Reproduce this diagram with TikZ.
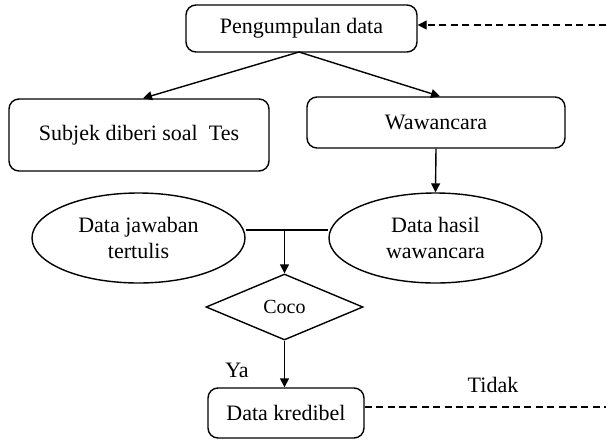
\documentclass[tikz,border=0pt]{standalone}
\usepackage{fontspec}
\setmainfont{Liberation Serif}
\usetikzlibrary{shapes.geometric,arrows.meta}

\begin{document}
\begin{tikzpicture}[x=0.5pt,y=-0.5pt,line width=0.7pt,
    font=\fontsize{11}{13}\selectfont,
    box/.style={draw,rounded corners=5pt,inner sep=0pt,align=center},
    blob/.style={draw,ellipse,inner sep=0pt,align=center,
        minimum width=106.5pt,minimum height=45pt},
    choice/.style={draw,diamond,inner sep=0pt,align=center,
        minimum width=78.5pt,minimum height=33pt,font=\fontsize{10}{12}\selectfont},
    arrow/.style={draw,-{Triangle[length=4.5pt,width=4.5pt]}},
    putus/.style={dash pattern=on 3.5pt off 2.2pt}]
\useasboundingbox (0,0) rectangle (606,440);
\node [box,minimum width=115.5pt,minimum height=23.5pt] (pengumpulan) at (301.5,28.5) {Pengumpulan data};
\node [box,minimum width=130pt,minimum height=36pt] (subjek) at (139,135) {Subjek diberi soal \ Tes};
\node [box,minimum width=129pt,minimum height=25.5pt] (wawancara) at (436,122.5) {Wawancara};
\node [blob] (jawaban) at (138.5,238) {Data jawaban\\ tertulis};
\node [blob] (hasil) at (435.5,238) {Data hasil\\ wawancara};
\node [choice] (coco) at (284.5,307) {Coco};
\node [box,minimum width=78pt,minimum height=25pt] (kredibel) at (286,413) {Data kredibel};
\node (ya) at (237,370) {Ya};
\node (tidak) at (493,385) {Tidak};
\coordinate (cabang) at (299,52);
\coordinate (gabung) at (284.5,230);
\coordinate (balik) at (606,25);
\coordinate (keluar) at (606,407);
\draw [arrow] (cabang) -- ([xshift=2pt]subjek.north);
\draw [arrow] (cabang) -- ([xshift=2pt]wawancara.north);
\draw [arrow] (wawancara.south) -- (hasil.north);
\draw (jawaban.east |- gabung) -- (hasil.west |- gabung);
\draw [arrow] (gabung) -- (coco.north);
\draw [arrow] (coco.south) -- (coco.south |- kredibel.north);
\draw [putus] (kredibel.east |- keluar) -- (keluar);
\draw [arrow,putus] (balik) -- (pengumpulan.east |- balik);
\end{tikzpicture}
\end{document}
